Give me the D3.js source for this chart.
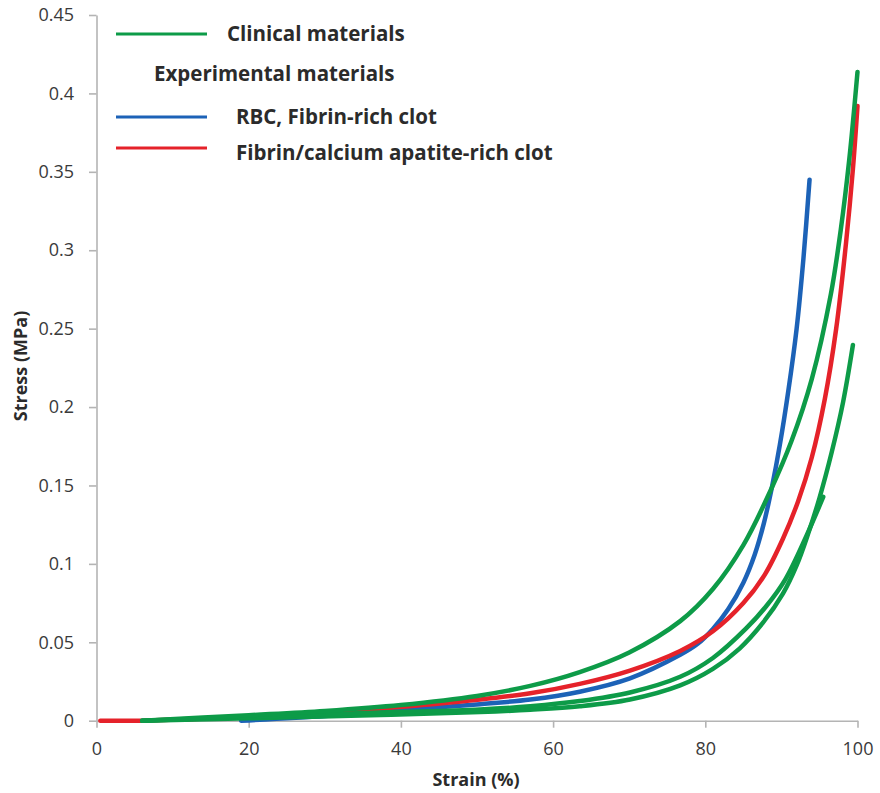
<!DOCTYPE html>
<html>
<head>
<meta charset="utf-8">
<script src="https://cdn.jsdelivr.net/npm/d3@7"></script>
<style>
  body { margin: 0; background: #fff; }
  text { font-family: "Open Sans", sans-serif; }
</style>
</head>
<body>
<script>
// tick labels
var strainTicks = [0, 20, 40, 60, 80, 100];
var stressTicks = [0, 0.05, 0.1, 0.15, 0.2, 0.25, 0.3, 0.35, 0.4, 0.45];

// curves: [strain %, stress MPa]
var clinical1 = [[6, 0], [20, 0.0035], [30, 0.0062], [40, 0.01], [50, 0.0158], [57, 0.0222], [63.5, 0.031],
    [70, 0.0435], [76.7, 0.0635], [81, 0.084], [85, 0.112], [88.5, 0.146], [91.3, 0.178], [94, 0.218],
    [96.5, 0.272], [97.8, 0.313], [98.9, 0.357], [100, 0.4137]];
var clinical2 = [[6, 0], [20, 0.0025], [37.3, 0.0052], [50.4, 0.0072], [57, 0.0092], [63.5, 0.0125], [70.1, 0.018],
    [76.7, 0.028], [81, 0.04], [85.4, 0.059], [88, 0.073], [90.5, 0.09], [93.3, 0.118], [95.5, 0.1427]];
var clinical3 = [[6, 0], [20, 0.0015], [37.3, 0.0036], [50.4, 0.0055], [57, 0.007], [63.5, 0.0092], [70.1, 0.0135],
    [76.7, 0.0225], [81, 0.033], [84.5, 0.046], [87.5, 0.062], [90.2, 0.081], [92, 0.099], [93.5, 0.119],
    [95, 0.142], [96.6, 0.171], [98.1, 0.203], [99.4, 0.2396]];
var rbcClot = [[19, 0], [30, 0.003], [37.3, 0.0058], [50.4, 0.0105], [57, 0.0135], [63.5, 0.0185], [70.1, 0.027],
    [76.7, 0.042], [79, 0.049], [81, 0.0585], [83, 0.071], [85, 0.088], [86.5, 0.106], [87.7, 0.126],
    [88.8, 0.15], [89.8, 0.176], [90.9, 0.21], [92, 0.25], [92.9, 0.295], [93.7, 0.345]];
var apatiteClot = [[0.5, 0], [6, 0], [15, 0.0015], [27, 0.0045], [37.3, 0.0078], [50.4, 0.0135], [57, 0.0175],
    [63.5, 0.0235], [70.1, 0.032], [76.7, 0.0445], [81, 0.057], [85, 0.075], [87.8, 0.093], [90.2, 0.116],
    [92.2, 0.14], [94, 0.168], [95.7, 0.205], [97.2, 0.25], [98.5, 0.305], [99.4, 0.352], [100, 0.392]];

var green = "#0d9b48", blue = "#1c62b7", red = "#e5222a";

var series = [
    {name: "rbc", data: rbcClot, color: blue},
    {name: "apatite", data: apatiteClot, color: red},
    {name: "clinical3", data: clinical3, color: green},
    {name: "clinical2", data: clinical2, color: green},
    {name: "clinical1", data: clinical1, color: green}
];

var width = 880;
var height = 793;

var svg = d3.select("body").append("svg")
    .attr("width", width)
    .attr("height", height);

var x = d3.scaleLinear().domain([0, 100]).range([96.5, 857.5]);
var y = d3.scaleLinear().domain([0, 0.45]).range([720.7, 15]);

var axisColor = "#b4b4b4";
var labelColor = "#3a3a3a";

//x axis
var xAxis = svg.append("g")
    .attr("transform", "translate(0," + y(0) + ")")
    .call(d3.axisBottom(x).tickValues(strainTicks).tickSize(7).tickSizeOuter(0).tickPadding(15)
        .tickFormat(function(d){ return d; }));

//y axis
var yAxis = svg.append("g")
    .attr("transform", "translate(" + x(0) + ",0)")
    .call(d3.axisLeft(y).tickValues(stressTicks).tickSize(7.5).tickSizeOuter(0).tickPadding(15)
        .tickFormat(function(d){ return String(d); }));

[xAxis, yAxis].forEach(function(g){
    g.select(".domain").attr("stroke", axisColor).attr("stroke-width", 1.6);
    g.selectAll(".tick line").attr("stroke", axisColor).attr("stroke-width", 1.6);
    g.selectAll(".tick text")
        .attr("fill", labelColor)
        .style("font-size", "18px")
        .style("font-family", "'Open Sans', sans-serif");
});

//axis titles
svg.append("text")
    .attr("x", 476)
    .attr("y", 786)
    .attr("text-anchor", "middle")
    .attr("fill", "#2b2b2b")
    .style("font-size", "18px")
    .style("font-weight", "bold")
    .text("Strain (%)");

svg.append("text")
    .attr("transform", "translate(27,366) rotate(-90)")
    .attr("text-anchor", "middle")
    .attr("fill", "#2b2b2b")
    .style("font-size", "18px")
    .style("font-weight", "bold")
    .text("Stress (MPa)");

//curves
var line = d3.line()
    .x(function(d){ return x(d[0]); })
    .y(function(d){ return y(d[1]); })
    .curve(d3.curveCatmullRom.alpha(0.5));

svg.selectAll(".curve")
    .data(series)
    .enter()
    .append("path")
    .attr("class", "curve")
    .attr("d", function(d){ return line(d.data); })
    .attr("fill", "none")
    .attr("stroke", function(d){ return d.color; })
    .attr("stroke-width", 4.5)
    .attr("stroke-linecap", "round")
    .attr("stroke-linejoin", "round");

//legend
var legendItems = [
    {label: "Clinical materials", color: green, ly: 34, tx: 227, ty: 41},
    {label: "Experimental materials", color: null, ly: 0, tx: 154, ty: 81},
    {label: "RBC, Fibrin-rich clot", color: blue, ly: 117, tx: 236, ty: 124},
    {label: "Fibrin/calcium apatite-rich clot", color: red, ly: 148, tx: 236, ty: 160}
];

var legend = svg.append("g").attr("class", "legend");

legend.selectAll(".legendLine")
    .data(legendItems.filter(function(d){ return d.color; }))
    .enter()
    .append("line")
    .attr("class", "legendLine")
    .attr("x1", 116)
    .attr("x2", 207)
    .attr("y1", function(d){ return d.ly; })
    .attr("y2", function(d){ return d.ly; })
    .attr("stroke", function(d){ return d.color; })
    .attr("stroke-width", 3.2);

legend.selectAll(".legendText")
    .data(legendItems)
    .enter()
    .append("text")
    .attr("class", "legendText")
    .attr("x", function(d){ return d.tx; })
    .attr("y", function(d){ return d.ty; })
    .attr("fill", "#2b2b2b")
    .style("font-size", "20.5px")
    .style("font-weight", "bold")
    .text(function(d){ return d.label; });
</script>
</body>
</html>
